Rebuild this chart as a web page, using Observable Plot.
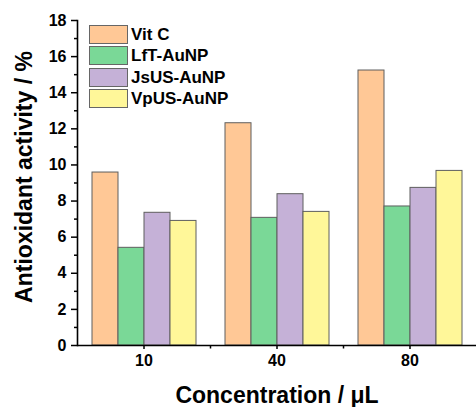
<!DOCTYPE html>
<html>
<head>
<meta charset="utf-8">
<script src="https://cdn.jsdelivr.net/npm/d3@7"></script>
<script src="https://cdn.jsdelivr.net/npm/@observablehq/plot@0.6"></script>
<style>
  html, body { margin: 0; padding: 0; background: #fff; }
  #wrap { position: relative; width: 476px; height: 407px; font-family: "Liberation Sans", Arial, sans-serif; }
  #legend { position: absolute; left: 89px; top: 24px; }
  .item { display: flex; align-items: center; height: 21.3px; }
  .sw { width: 37px; height: 17px; border: 1px solid #666; box-sizing: content-box; }
  .lab { margin-left: 3px; font-weight: bold; font-size: 17px; color: #000; line-height: 17px; }
</style>
</head>
<body>
<div id="wrap"><div id="legend"></div></div>
<script>
const groups = ["10", "40", "80"];
const series = ["Vit C", "LfT-AuNP", "JsUS-AuNP", "VpUS-AuNP"];
const vitC = [9.58, 12.31, 15.23];
const lftAuNP = [5.41, 7.07, 7.70];
const jsusAuNP = [7.35, 8.38, 8.73];
const vpusAuNP = [6.90, 7.40, 9.67];
const colors = ["#FFC896", "#7AD897", "#C5B1D7", "#FFF799"];
const yMajorTicks = [0, 2, 4, 6, 8, 10, 12, 14, 16, 18];
const yMinorTicks = [1, 3, 5, 7, 9, 11, 13, 15, 17];
const boundaries = ["10", "40"];

const seriesValues = [vitC, lftAuNP, jsusAuNP, vpusAuNP];
const data = groups.flatMap((g, i) => series.map((s, j) => ({ g, s, v: seriesValues[j][i] })));

const tickSymbol = { draw(context) { context.moveTo(0, 0); context.lineTo(0, 3); } };

const chart = Plot.plot({
  width: 476,
  height: 407,
  marginLeft: 76,
  marginRight: 0,
  marginTop: 20,
  marginBottom: 62,
  style: { fontFamily: "'Liberation Sans', Arial, sans-serif", fontWeight: "bold", fontSize: "16px", background: "white", color: "black", overflow: "visible" },
  fx: { domain: groups, padding: 0 },
  x: { domain: series, paddingInner: 0, paddingOuter: 0.48, axis: null },
  y: { domain: [0, 18] },
  color: { domain: series, range: colors },
  marks: [
    Plot.barY(data, { fx: "g", x: "s", y: "v", fill: "s", stroke: "#5e5e5e", strokeWidth: 1 }),
    Plot.ruleY([0], { stroke: "black", strokeWidth: 1.6 }),
    Plot.frame({ anchor: "left", facetAnchor: "left", stroke: "black", strokeWidth: 1.6 }),
    Plot.axisY({ ticks: yMajorTicks, tickSize: 6, tickPadding: 5, strokeWidth: 1.5, label: "Antioxidant activity / %", labelArrow: "none", labelAnchor: "center", labelOffset: 62 }),
    Plot.axisY({ ticks: yMinorTicks, tickSize: 3, strokeWidth: 1.5, tickFormat: () => "", label: null }),
    Plot.axisFx({ anchor: "bottom", tickSize: 4, tickPadding: 5, strokeWidth: 1.5, label: "Concentration / μL", labelArrow: "none", labelAnchor: "center", labelOffset: 57 }),
    Plot.dot(boundaries, { fx: d => d, frameAnchor: "bottom-right", symbol: tickSymbol, stroke: "black", strokeWidth: 1.5, fill: "none" })
  ]
});

document.getElementById("wrap").prepend(chart);
d3.select(chart).selectAll('[aria-label="y-axis label"] text, [aria-label="fx-axis label"] text')
  .style("font-size", "23px");
d3.select(chart).selectAll('[aria-label="y-axis label"]')
  .attr("transform", function () { return (this.getAttribute("transform") || "") + " translate(0,-6)"; });

const legend = d3.select("#legend");
series.forEach((s, i) => {
  const it = legend.append("div").attr("class", "item");
  it.append("div").attr("class", "sw").style("background", colors[i]);
  it.append("div").attr("class", "lab").text(s);
});
</script>
</body>
</html>
